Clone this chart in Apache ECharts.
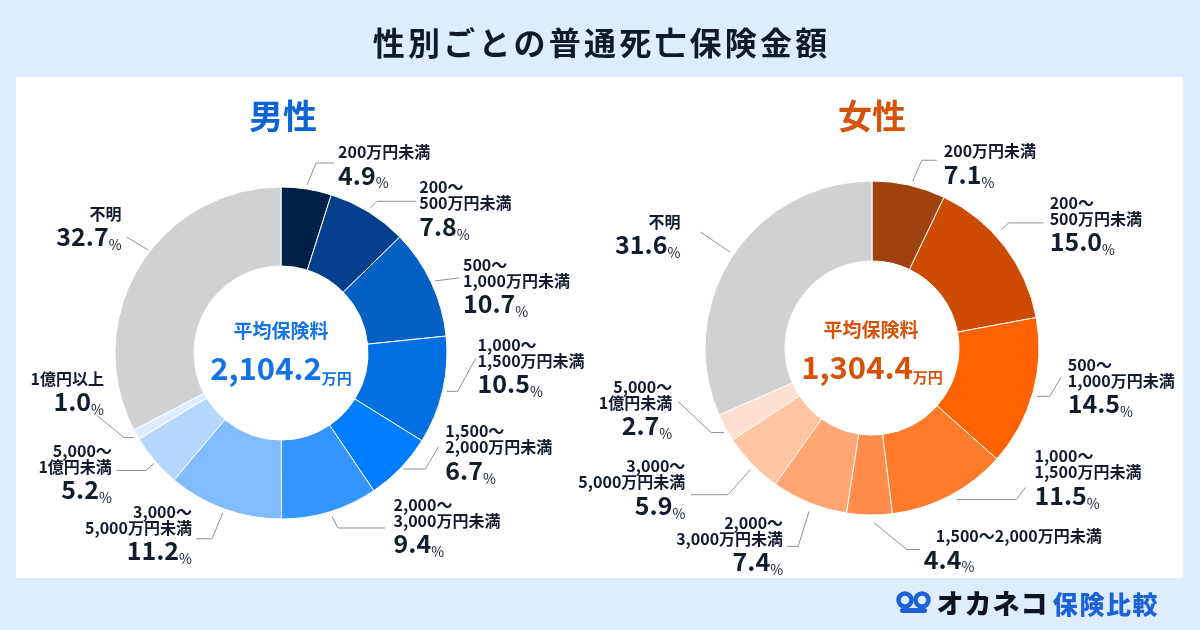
<!DOCTYPE html>
<html><head><meta charset="utf-8">
<script src="https://cdn.jsdelivr.net/npm/echarts@6/dist/echarts.min.js"></script>
<style>html,body{margin:0;padding:0;background:#ddedfd}#c{width:1200px;height:630px}</style>
</head><body><div id="c"></div>
<script>
// ---- data ----
const chartTitle = '性別ごとの普通死亡保険金額';
const groupNames = ['男性', '女性'];
const centerCaption = '平均保険料';
const averages = ['2,104.2', '1,304.4'];
const averageUnit = '万円';
const categoriesMale = ['200万円未満', '200～\n500万円未満', '500～\n1,000万円未満', '1,000～\n1,500万円未満', '1,500～\n2,000万円未満', '2,000～\n3,000万円未満', '3,000～\n5,000万円未満', '5,000～\n1億円未満', '1億円以上', '不明'];
const valuesMale = [4.9, 7.8, 10.7, 10.5, 6.7, 9.4, 11.2, 5.2, 1.0, 32.7];
const categoriesFemale = ['200万円未満', '200～\n500万円未満', '500～\n1,000万円未満', '1,000～\n1,500万円未満', '1,500～2,000万円未満', '2,000～\n3,000万円未満', '3,000～\n5,000万円未満', '5,000～\n1億円未満', '不明'];
const valuesFemale = [7.1, 15.0, 14.5, 11.5, 4.4, 7.4, 5.9, 2.7, 31.6];
const brandName = 'オカネコ';
const brandSub = '保険比較';

// ---- styles ----
const colorsMale = ['#002147', '#033f8c', '#0560c4', '#0370e2', '#007cff', '#3396ff', '#80bcff', '#b5d7ff', '#ddecfe', '#d0d1d3'];
const colorsFemale = ['#a0420e', '#cd4b00', '#ff6200', '#ff7a2a', '#ff8c4a', '#ffa673', '#ffc5a0', '#ffe0d0', '#d0d1d3'];
const FONT = '"Noto Sans CJK JP", "Noto Sans", sans-serif';
const TXT = '#131c2e';
const BLUE = '#0a64d6';
const ORANGE = '#d4520a';

// label guide layout (relative offsets from slice anchor)
const guideMale = [
  {pts: [[0, 0], [9, -22], [27, -22]], lx: 4, ly: -19, align: 'left'},
  {pts: [[0, 0], [7, -7], [46, -7]], lx: 3, ly: -22, align: 'left'},
  {pts: [[0, 0], [24, -3]], lx: 4, ly: -21, align: 'left'},
  {pts: [[0, 0], [11, 0], [29, -33]], lx: 2, ly: -21.5, align: 'left'},
  {pts: [[0, -2], [22, -2], [35, -24]], lx: 7, ly: -23.6, align: 'left'},
  {pts: [[1, 1], [7, 12.5], [54, 12.5]], lx: 8.6, ly: -31, align: 'left'},
  {pts: [[0, 0], [-11, 26], [-27, 26]], lx: -4, ly: -35, align: 'right'},
  {pts: [[2, 0], [-6, 7], [-35, 7]], lx: -5, ly: -28, align: 'right'},
  {pts: [[1, 1], [-9, 1], [-36, -21]], lx: 7, ly: -44.6, align: 'right'},
  {pts: [[12.5, -15], [-9, -28]], lx: -5, ly: -31, align: 'right'}
];
const guideFemale = [
  {pts: [[3, 0], [12, -21], [27, -21]], lx: 7, ly: -17, align: 'left'},
  {pts: [[-6, -14.5], [1, -21], [36, -21]], lx: 6, ly: -28, align: 'left'},
  {pts: [[0, 2.5], [13, 2.5], [24, -16]], lx: 7, ly: -21, align: 'left'},
  {pts: [[5.5, 0], [65, 0], [74, -12]], lx: 9, ly: -39, align: 'left'},
  {pts: [[4.5, 3.5], [37.5, 30.5], [50.5, 30.5]], lx: 4, ly: -21.3, align: 'left'},
  {pts: [[1.5, 5], [-9.5, 40], [-20.5, 40]], lx: -4, ly: -31.5, align: 'right'},
  {pts: [[1.5, 3], [-21, 28], [-58, 28]], lx: -5.6, ly: -36.4, align: 'right'},
  {pts: [[2.5, 3], [-10.5, 3], [-43.5, -28]], lx: -6, ly: -23, align: 'right'},
  {pts: [[1, -2.5], [-28.5, -22.5]], lx: -20, ly: -18, align: 'right'}
];

const pies = [
  {cats: categoriesMale, vals: valuesMale, colors: colorsMale, guide: guideMale, cx: 281, cy: 353, r0: 87, r: 166},
  {cats: categoriesFemale, vals: valuesFemale, colors: colorsFemale, guide: guideFemale, cx: 872, cy: 348, r0: 87, r: 167}
];

function anchors(values, cx, cy, r) {
  const sum = values.reduce((a, b) => a + b, 0);
  let cum = 0;
  return values.map(v => {
    const mid = (cum + v / 2) / sum * 2 * Math.PI;
    cum += v;
    return [cx + r * Math.sin(mid), cy - r * Math.cos(mid)];
  });
}

function labelFormatter(p) {
  const parts = p.name.split('\n');
  const lines = parts.map(s => (parts.length === 1 && s.indexOf('～') > 0 ? '{ci|' : '{c|') + s + '}');
  lines.push('{n|' + p.value.toFixed(1) + '}{p|%}');
  return lines.join('\n');
}

const series = pies.map(pc => {
  const anc = anchors(pc.vals, pc.cx, pc.cy, pc.r + 4);
  return {
    type: 'pie',
    center: [pc.cx, pc.cy],
    radius: [pc.r0, pc.r],
    startAngle: 90,
    clockwise: true,
    avoidLabelOverlap: false,
    animation: false,
    emphasis: {disabled: true},
    itemStyle: {borderColor: '#ffffff', borderWidth: 1},
    data: pc.cats.map((n, i) => ({name: n, value: pc.vals[i], itemStyle: {color: pc.colors[i]}})),
    label: {
      show: true,
      position: 'outside',
      overflow: 'none',
      formatter: labelFormatter,
      rich: {
        c: {fontFamily: FONT, fontSize: 16, fontWeight: 'bold', lineHeight: 16, color: TXT},
        ci: {fontFamily: FONT, fontSize: 16, fontWeight: 'bold', lineHeight: 16, color: TXT, padding: [0, 0, 0, 12]},
        n: {fontFamily: FONT, fontSize: 25, fontWeight: 'bold', lineHeight: 30, color: TXT},
        p: {fontFamily: FONT, fontSize: 14, fontWeight: 'normal', lineHeight: 22, verticalAlign: 'bottom', color: TXT}
      }
    },
    labelLine: {show: true, length: 10, length2: 10, lineStyle: {color: '#8d9298', width: 1}},
    labelLayout: function (params) {
      const i = params.dataIndex;
      const g = pc.guide[i];
      const a = anc[i];
      const pts = g.pts.map(q => [a[0] + q[0], a[1] + q[1]]);
      const end = pts[pts.length - 1];
      return {
        x: end[0] + g.lx,
        y: end[1] + g.ly,
        align: g.align,
        verticalAlign: 'top',
        labelLinePoints: pts
      };
    }
  };
});

const spaced = (s, key) => s.split('').map(ch => '{' + key + '|' + ch + '}').join('');

const option = {
  backgroundColor: '#ddedfd',
  animation: false,
  title: [
    {text: spaced(chartTitle, 't'), left: 600, top: 43, textAlign: 'center', textVerticalAlign: 'middle', padding: 0,
      textStyle: {rich: {t: {fontFamily: FONT, fontSize: 32, fontWeight: 'bold', color: '#111a2b', padding: [0, 1.6]}}}},
    {text: groupNames[0], left: 283, top: 116, textAlign: 'center', textVerticalAlign: 'middle', padding: 0,
      textStyle: {fontFamily: FONT, fontSize: 34, fontWeight: 'bold', color: BLUE}},
    {text: groupNames[1], left: 872, top: 116, textAlign: 'center', textVerticalAlign: 'middle', padding: 0,
      textStyle: {fontFamily: FONT, fontSize: 34, fontWeight: 'bold', color: ORANGE}},
    {text: centerCaption, left: 281, top: 331, textAlign: 'center', textVerticalAlign: 'middle', padding: 0,
      textStyle: {fontFamily: FONT, fontSize: 19, fontWeight: 'bold', color: '#1173e6'}},
    {text: centerCaption, left: 871, top: 330, textAlign: 'center', textVerticalAlign: 'middle', padding: 0,
      textStyle: {fontFamily: FONT, fontSize: 19, fontWeight: 'bold', color: ORANGE}},
    {text: '{v|' + averages[0] + '}{u|' + averageUnit + '}', left: 281, top: 368, textAlign: 'center', textVerticalAlign: 'middle', padding: 0,
      textStyle: {rich: {
        v: {fontFamily: FONT, fontSize: 31, fontWeight: 'bold', color: '#1173e6', lineHeight: 36},
        u: {fontFamily: FONT, fontSize: 15, fontWeight: 'bold', color: '#1173e6', lineHeight: 25, verticalAlign: 'bottom'}}}},
    {text: '{v|' + averages[1] + '}{u|' + averageUnit + '}', left: 872, top: 367, textAlign: 'center', textVerticalAlign: 'middle', padding: 0,
      textStyle: {rich: {
        v: {fontFamily: FONT, fontSize: 31, fontWeight: 'bold', color: ORANGE, lineHeight: 36},
        u: {fontFamily: FONT, fontSize: 15, fontWeight: 'bold', color: ORANGE, lineHeight: 25, verticalAlign: 'bottom'}}}},
    {text: spaced(brandName, 'b'), left: 936, top: 604, textAlign: 'left', textVerticalAlign: 'middle', padding: 0,
      textStyle: {rich: {b: {fontFamily: FONT, fontSize: 27, fontWeight: 900, color: '#0f1420', padding: [0, 0.5]}}}},
    {text: spaced(brandSub, 's'), left: 1052, top: 604, textAlign: 'left', textVerticalAlign: 'middle', padding: 0,
      textStyle: {rich: {s: {fontFamily: FONT, fontSize: 25, fontWeight: 900, color: '#1b62d6', padding: [0, 0.8]}}}}
  ],
  graphic: [
    {type: 'rect', z: -10, shape: {x: 16, y: 77, width: 1167, height: 501}, style: {fill: '#ffffff'}},
    {type: 'circle', shape: {cx: 905, cy: 600, r: 6.5}, style: {fill: 'none', stroke: '#1b62d6', lineWidth: 4.5}},
    {type: 'circle', shape: {cx: 922, cy: 600, r: 6.5}, style: {fill: 'none', stroke: '#1b62d6', lineWidth: 4.5}},
    {type: 'rect', shape: {x: 900, y: 608, width: 27, height: 5, r: 2.5}, style: {fill: '#1b62d6'}}
  ],
  series: series
};

const chart = echarts.init(document.getElementById('c'), null, {renderer: 'canvas'});
chart.setOption(option);
</script>
</body></html>
